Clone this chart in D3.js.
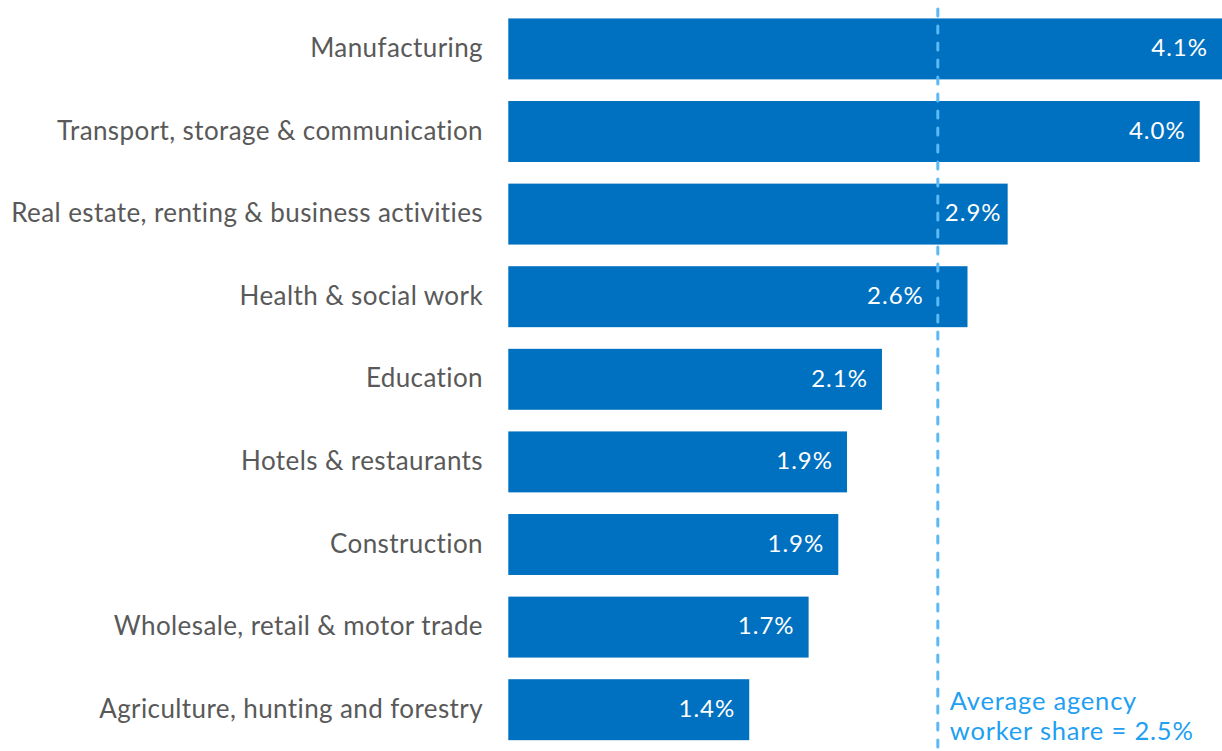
<!DOCTYPE html>
<html>
<head>
<meta charset="utf-8">
<script src="https://cdn.jsdelivr.net/npm/d3@7/dist/d3.min.js"></script>
<style>
  html, body { margin: 0; padding: 0; background: #fff; }
  svg { display: block; }
  text { font-family: Lato, "Open Sans", sans-serif; }
</style>
</head>
<body>
<svg id="chart" width="1222" height="751"></svg>
<script>
// Agency worker share of employment by industry (%)
const industries = [
  "Manufacturing",
  "Transport, storage & communication",
  "Real estate, renting & business activities",
  "Health & social work",
  "Education",
  "Hotels & restaurants",
  "Construction",
  "Wholesale, retail & motor trade",
  "Agriculture, hunting and forestry"
];
const shares = [4.1, 3.96, 2.86, 2.63, 2.14, 1.94, 1.89, 1.72, 1.38];
const averageShare = 2.46;
const averageLabel = ["Average agency", "worker share = "];

const W = 1222, H = 751;
const svg = d3.select("#chart");
const fmt = d3.format(".1f");

const x = d3.scaleLinear().domain([0, 4]).range([508.3, 1206.7]);
const y = d3.scaleBand()
  .domain(industries)
  .range([7.6, 751])
  .paddingInner(0.262)
  .paddingOuter(0.131);

const data = industries.map((name, i) => ({ name, value: shares[i] }));

// bars
svg.append("g")
  .selectAll("rect")
  .data(data)
  .join("rect")
  .attr("x", x(0))
  .attr("y", d => y(d.name))
  .attr("width", d => x(d.value) - x(0))
  .attr("height", y.bandwidth())
  .attr("fill", "#0070C0");

// category labels
svg.append("g")
  .selectAll("text")
  .data(data)
  .join("text")
  .attr("x", 483)
  .attr("y", d => y(d.name) + y.bandwidth() / 2)
  .attr("dy", "0.31em")
  .attr("text-anchor", "end")
  .attr("fill", "#595959")
  .attr("font-size", 26)
  .attr("letter-spacing", 0.4)
  .text(d => d.name);

// average reference line
const xAvg = x(averageShare);
svg.append("line")
  .attr("x1", xAvg).attr("x2", xAvg)
  .attr("y1", 9).attr("y2", H + 5)
  .attr("stroke", "#5bbaf6")
  .attr("stroke-width", 3)
  .attr("stroke-linecap", "round")
  .attr("stroke-dasharray", "7,10");

// value labels, kept clear of the reference line
const valueLabels = svg.append("g")
  .selectAll("text")
  .data(data)
  .join("text")
  .attr("y", d => y(d.name) + y.bandwidth() / 2)
  .attr("dy", "0.3em")
  .attr("fill", "#ffffff")
  .attr("font-size", 24)
  .attr("letter-spacing", 1)
  .attr("text-anchor", "start")
  .text(d => fmt(d.value) + "%");

valueLabels.each(function (d) {
  const w = this.getComputedTextLength();
  let end = Math.min(x(d.value), W) - 14;
  let start = end - w;
  if (start < xAvg && end > xAvg) {
    if (end - xAvg > xAvg - start) start = xAvg + 7;
    else start = xAvg - 14 - w;
  }
  d3.select(this).attr("x", start);
});

// annotation for the average line
const note = svg.append("text")
  .attr("x", xAvg + 12)
  .attr("y", 710)
  .attr("fill", "#1fa0f2")
  .attr("font-size", 25.5)
  .attr("letter-spacing", 0.8);
note.append("tspan").attr("x", xAvg + 12).text(averageLabel[0]);
note.append("tspan").attr("x", xAvg + 12).attr("dy", 30)
  .text(averageLabel[1] + fmt(averageShare) + "%");
</script>
</body>
</html>
